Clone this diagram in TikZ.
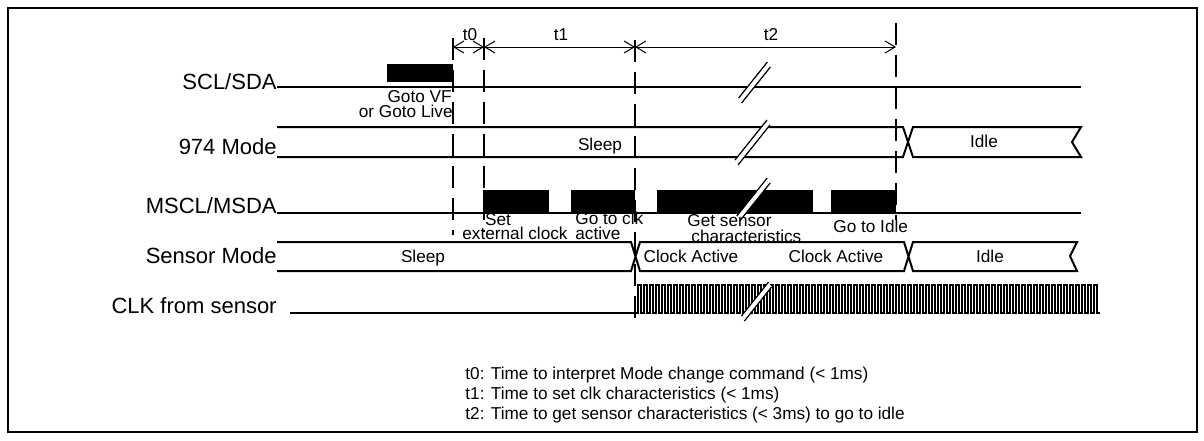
\documentclass[tikz,border=0pt]{standalone}
\usepackage{fontspec}
\setmainfont{Liberation Sans}
\usetikzlibrary{arrows.meta,positioning}

\begin{document}
\begin{tikzpicture}[
    x=0.5pt, y=-0.5pt,
    sig/.style={line width=1pt},
    bus/.style={line width=1pt, line join=miter},
    timeline/.style={line width=1pt, dash pattern=on 11pt off 5pt},
    dim/.style={{Straight Barb[length=5pt,width=6pt]}-{Straight Barb[length=5pt,width=6pt]}, line width=0.5pt},
    sname/.style={anchor=base east, inner sep=0pt, font=\fontsize{11}{13}\selectfont},
    lbl/.style={inner sep=0pt, font=\fontsize{8.6}{10}\selectfont},
    slash/.style={line width=0.6pt},
    clk/.style={line width=0.85pt}
]
    \useasboundingbox (0,0) rectangle (1204,440);
    \draw[line width=1pt] (7.5,8) rectangle (1196.5,432);

    % Signal names
    \node[sname] (scl) at (277,89) {SCL/SDA};
    \node[sname] (mode) at (277,154) {974 Mode};
    \node[sname] (mscl) at (277,213) {MSCL/MSDA};
    \node[sname] (sens) at (277,263) {Sensor Mode};
    \node[sname] (clkname) at (277,313) {CLK from sensor};

    % SCL/SDA
    \draw[sig] (277,87) -- (1081,87);
    \fill (387,64) rectangle (453,82);

    % 974 Mode
    \draw[bus] (277,127) -- (903,127) -- (913,157) -- (1081,157) -- (1072,142)
        -- (1081,127) -- (913,127) -- (903,157) -- (277,157);

    % MSCL/MSDA
    \draw[sig] (277,213) -- (1081,213);
    \foreach \a/\b in {483/549, 571/635, 657/813, 831/896}
        \fill (\a,190) rectangle (\b,213);

    % Sensor Mode
    \draw[bus] (277,242) -- (631,242) -- (640,271) -- (904,271) -- (913,242)
        -- (1077,242) -- (1070,256) -- (1077,271) -- (913,271) -- (904,242)
        -- (640,242) -- (631,271) -- (277,271);

    % CLK from sensor
    \draw[sig] (290,313) -- (635,313);
    \draw[clk] (635,313) -- (638,313)
        \foreach \i in {0,...,76} {
            -- ({638+6*\i},285) -- ({641+6*\i},285) -- ({641+6*\i},313) -- ({644+6*\i},313)
        };

    % Breaks
    \foreach \cx/\cy/\h in {755/80/18, 753/140/20, 754/197/19, 757/299/17} {
        \fill[white] ({\cx-0.8*\h-2},{\cy+\h}) -- ({\cx+0.8*\h-2},{\cy-\h})
            -- ({\cx+0.8*\h+1},{\cy-\h+5}) -- ({\cx-0.8*\h+1},{\cy+\h+5}) -- cycle;
        \draw[slash] ({\cx-0.8*\h-2},{\cy+\h}) -- ({\cx+0.8*\h-2},{\cy-\h});
        \draw[slash] ({\cx-0.8*\h+1},{\cy+\h+5}) -- ({\cx+0.8*\h+1},{\cy-\h+5});
    }

    % Time marks
    \draw[timeline] (453,38) -- (453,235);
    \draw[timeline] (484,38) -- (484,232);
    \draw[timeline] (635,40) -- (635,323);
    \draw[timeline] (896,23) -- (896,220);
    \draw[dim] (453,47) -- (484,47);
    \draw[dim] (484,47) -- (635,47);
    \draw[dim] (635,47) -- (896,47);
    \node[lbl, anchor=base] (lt0) at (470,40) {t0};
    \node[lbl, anchor=base] (lt1) at (561,40) {t1};
    \node[lbl, anchor=base] (lt2) at (771,40) {t2};

    % Labels
    \node[lbl, anchor=base east] (gvf) at (452,102) {Goto VF};
    \node[lbl, anchor=base east] (glive) at (453,117) {or Goto Live};
    \node[lbl, anchor=base] (msleep) at (600,150) {Sleep};
    \node[lbl, anchor=base] (midle) at (984,147) {Idle};
    \node[lbl, anchor=base] (lset) at (498,225) {Set};
    \node[lbl, anchor=base] (lext) at (515,239) {external clock};
    \node[lbl, anchor=base west] (lgo) at (575,224) {Go to clk};
    \node[lbl, anchor=base west] (lact) at (575,239) {active};
    \node[lbl, anchor=base west] (lget) at (687,226) {Get sensor};
    \node[lbl, anchor=base west] (lchar) at (691,242) {characteristics};
    \node[lbl, anchor=base west] (lgoidle) at (833,232) {Go to Idle};
    \node[lbl, anchor=base] (ssleep) at (423,262) {Sleep};
    \node[lbl, anchor=base] (sact1) at (691,262) {Clock Active};
    \node[lbl, anchor=base] (sact2) at (836,262) {Clock Active};
    \node[lbl, anchor=base] (sidle) at (990,262) {Idle};

    % Legend
    \node[lbl, anchor=base west] (leg0) at (465,379) {t0: Time to interpret Mode change command (< 1ms)};
    \node[lbl, anchor=base west] (leg1) at (465,399) {t1: Time to set clk characteristics (< 1ms)};
    \node[lbl, anchor=base west] (leg2) at (465,419) {t2: Time to get sensor characteristics (< 3ms) to go to idle};
\end{tikzpicture}
\end{document}
